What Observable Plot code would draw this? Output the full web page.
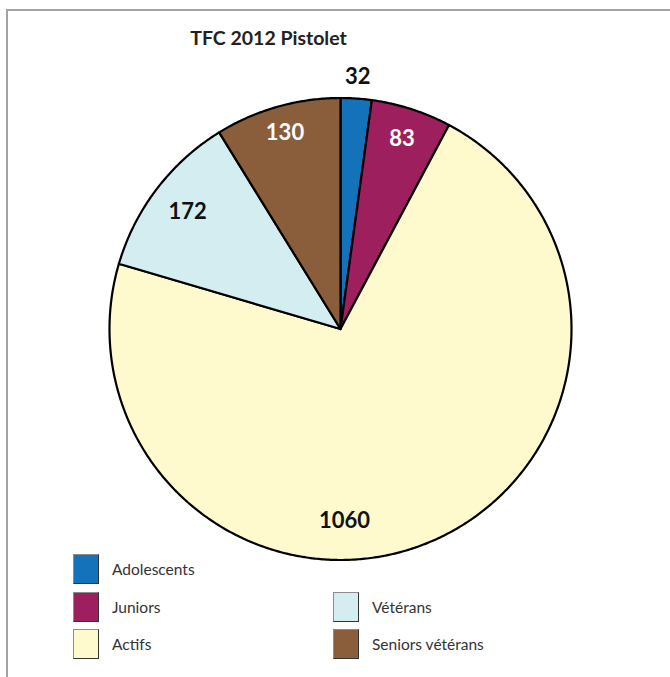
<!DOCTYPE html>
<html>
<head>
<meta charset="utf-8">
<script src="https://cdn.jsdelivr.net/npm/d3@7"></script>
<script src="https://cdn.jsdelivr.net/npm/@observablehq/plot@0.6"></script>
<style>
  html, body { margin: 0; padding: 0; background: #fff; }
  #wrap { position: relative; width: 670px; height: 677px; overflow: hidden; font-family: Lato, "Open Sans", sans-serif; }
  #frame { position: absolute; left: 6px; top: 9px; width: 800px; height: 800px; border-left: 2px solid #a3a3a3; border-top: 2px solid #a3a3a3; }
  #chart { position: absolute; left: 0; top: 0; }
  #title { position: absolute; left: 0; width: 537px; top: 26px; text-align: center; font-weight: bold; font-size: 19.5px; color: #222; line-height: 24px; }
  .lg { position: absolute; display: flex; align-items: center; font-size: 15.5px; color: #333; }
  .sw { width: 24px; height: 28px; margin-right: 13px; border-style: solid; border-width: 1px; border-color: #8c8c8c #333 #333 #8c8c8c; }
</style>
</head>
<body>
<div id="wrap">
  <div id="frame"></div>
  <div id="chart"></div>
  <div id="title">TFC 2012 Pistolet</div>
  <div id="legend"></div>
</div>
<script>
const categories = ["Adolescents", "Juniors", "Actifs", "Vétérans", "Seniors vétérans"];
const values = [32, 83, 1060, 172, 130];
const colors = ["#1372ba", "#9e1f5e", "#fffacd", "#d4edf1", "#8a5d3b"];
const labelColors = ["#111", "#fff", "#111", "#111", "#fff"];
const title = "TFC 2012 Pistolet";

// layout (not data)
const W = 670, H = 677, R = 231, CX = 340, CY = 328.5;
const labelRadius = [1.095, 0.865, 0.83, 0.833, 0.88];
const labelAngleOverride = {2: Math.PI * 178.8 / 180};

const data = categories.map((c, i) => ({cat: c, value: values[i], labelColor: labelColors[i]}));
const arcs = d3.pie().sort(null).value(d => d.value)(data);

const rows = [];
arcs.forEach(a => {
  const cat = a.data.cat;
  rows.push({cat, x: 0, y: 0});
  const n = Math.max(4, Math.ceil((a.endAngle - a.startAngle) / (Math.PI / 360)));
  for (let k = 0; k <= n; k++) {
    const t = a.startAngle + (a.endAngle - a.startAngle) * k / n;
    rows.push({cat, x: Math.sin(t), y: Math.cos(t)});
  }
  rows.push({cat, x: 0, y: 0});
});

const labels = arcs.map((a, i) => {
  const t = labelAngleOverride[i] !== undefined ? labelAngleOverride[i] : (a.startAngle + a.endAngle) / 2;
  return {text: String(a.data.value), x: labelRadius[i] * Math.sin(t), y: labelRadius[i] * Math.cos(t), color: a.data.labelColor};
});

const plot = Plot.plot({
  width: W,
  height: H,
  margin: 0,
  x: {domain: [-CX / R, (W - CX) / R], axis: null},
  y: {domain: [-(H - CY) / R, CY / R], axis: null},
  color: {domain: categories, range: colors},
  style: {background: "transparent", overflow: "visible"},
  marks: [
    Plot.line(rows, {x: "x", y: "y", z: "cat", fill: "cat", stroke: "#000", strokeWidth: 2.2, strokeLinejoin: "round"}),
    Plot.text(labels.filter(d => d.color === "#111"), {x: "x", y: "y", text: "text", fill: "#111", fontSize: 22, fontWeight: "bold", fontFamily: "Lato"}),
    Plot.text(labels.filter(d => d.color === "#fff"), {x: "x", y: "y", text: "text", fill: "#fff", fontSize: 22, fontWeight: "bold", fontFamily: "Lato"})
  ]
});
document.getElementById("chart").appendChild(plot);

// legend
const legendPos = [[73, 554], [73, 591.5], [73, 629], [333, 591.5], [333, 629]];
const legend = document.getElementById("legend");
categories.forEach((c, i) => {
  const el = document.createElement("div");
  el.className = "lg";
  el.style.left = legendPos[i][0] + "px";
  el.style.top = legendPos[i][1] + "px";
  const sw = document.createElement("div");
  sw.className = "sw";
  sw.style.background = colors[i];
  const tx = document.createElement("span");
  tx.textContent = c;
  el.appendChild(sw);
  el.appendChild(tx);
  legend.appendChild(el);
});
</script>
</body>
</html>
